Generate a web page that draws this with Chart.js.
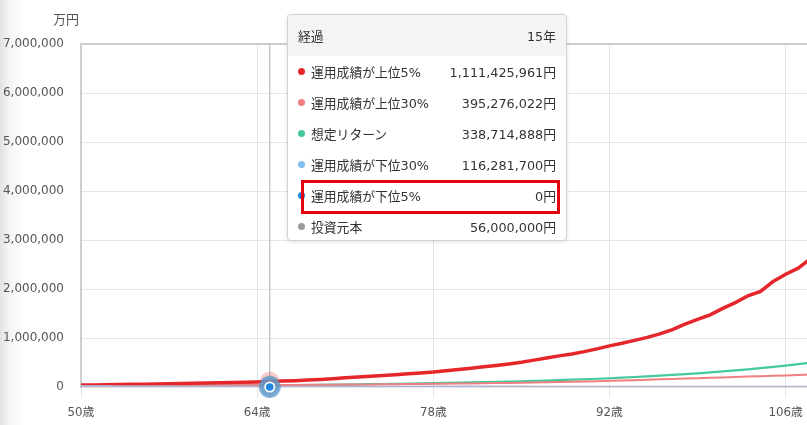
<!DOCTYPE html>
<html lang="ja">
<head>
<meta charset="utf-8">
<script src="https://cdn.jsdelivr.net/npm/chart.js@4/dist/chart.umd.min.js"></script>
<style>
html,body{margin:0;padding:0;}
body{width:807px;height:425px;overflow:hidden;position:relative;
  font-family:"DejaVu Sans","Noto Sans CJK JP",sans-serif;
  background:linear-gradient(to right,#e2e2e2 0,#f4f4f4 9px,#fff 24px);}
#wrap{position:absolute;left:0;top:0;width:836px;height:425px;}
#unit{position:absolute;left:53px;top:9px;font-size:13px;color:#555;font-family:"Noto Sans CJK JP",sans-serif;}
#tip{position:absolute;left:287px;top:14px;width:280px;height:227px;box-sizing:border-box;
  background:#fff;border:1px solid #d2d2d2;border-radius:4px;box-shadow:0 1px 4px rgba(0,0,0,.12);
  font-size:12.8px;color:#333;overflow:hidden;}
#tip .hd{height:41px;background:#f4f4f4;display:flex;justify-content:space-between;align-items:center;padding:0 10px 0 10px;}
#tip .row{height:31px;display:flex;align-items:center;padding:0 10px 0 10px;}
#tip .dot{width:7px;height:7px;border-radius:50%;margin-right:6px;flex:none;}
#tip .val{margin-left:auto;}
#mark{position:absolute;left:301px;top:180px;width:259px;height:34px;box-sizing:border-box;border:3px solid #e3000f;}
</style>
</head>
<body>
<div id="wrap"><canvas id="c"></canvas></div>
<div id="unit">万円</div>
<div id="tip"></div>
<div id="mark"></div>
<script>
/* ---------- data (万円) ---------- */
const ages = [50,51,52,53,54,55,56,57,58,59,60,61,62,63,64,65,66,67,68,69,70,71,72,73,74,75,76,77,78,79,
  80,81,82,83,84,85,86,87,88,89,90,91,92,93,94,95,96,97,98,99,100,101,102,103,104,105,106,107,108,109,110];
const xTicks = [50,64,78,92,106];

const top5 = [40000,43000,46500,50000,54000,58000,62000,66500,71000,76000,81000,86000,92000,98000,104000,
  111000,120000,130000,141000,155000,170000,188000,205000,220000,236000,251000,268000,286000,305000,330000,
  358000,385000,412000,440000,470000,505000,548000,592000,635000,672000,722000,778000,840000,892000,952000,
  1012000,1085000,1172000,1282000,1378000,1472000,1605000,1722000,1862000,1952000,2152000,2302000,2425000,
  2625000,2810000,3010000];
const top30 = [20000,21300,22600,23900,25200,26500,27800,29100,30400,31700,33000,34300,35600,36900,38200,
  39500,41000,42500,44000,45500,47000,49000,51000,53000,55000,57000,59500,62000,64500,67000,
  70000,73000,76000,79500,83000,87000,91000,96000,101000,107000,113000,119000,126000,133000,140000,
  148000,156000,164000,172000,180000,188000,196000,204000,212000,220000,228000,236000,245000,254000,263000,272000];
const expected = [20000,21000,22000,23000,24000,25000,26000,27000,28000,29000,30000,30800,31600,32400,33100,
  33900,36000,38500,41000,44000,47000,50000,53500,57000,61000,65000,69000,73500,78000,83000,
  88000,93500,99000,105000,111000,117000,124000,132000,140000,149000,158000,168000,179000,191000,204000,
  218000,232000,247000,263000,280000,298000,318000,339000,361000,385000,410000,437000,466000,497000,530000,565000];
const low30 = [20000,19400,18800,18200,17600,17000,16500,16000,15400,14900,14300,13800,13300,12700,12200,
  11600,11100,10600,10100,9600,9100,8600,8100,7600,7100,6600,6200,5800,5400,5000,
  4600,4200,3800,3400,3000,2600,2200,1800,1400,1000,600,300,0,0,0,
  0,0,0,0,0,0,0,0,0,0,0,0,0,0,0,0];
const low5 = [20000,18500,17000,15500,14000,12500,11000,9500,8000,6500,5000,3800,2600,1500,500,
  0,0,0,0,0,0,0,0,0,0,0,0,0,0,0,0,0,0,0,0,0,0,0,0,0,0,0,0,0,0,0,0,0,0,0,0,0,0,0,0,0,0,0,0,0,0];
const principal = [20000,19000,18000,17000,16000,15000,14000,13000,12000,11000,10000,9000,8000,7200,6400,
  5600,5600,5600,5600,5600,5600,5600,5600,5600,5600,5600,5600,5600,5600,5600,5600,5600,5600,5600,5600,
  5600,5600,5600,5600,5600,5600,5600,5600,5600,5600,5600,5600,5600,5600,5600,5600,5600,5600,5600,5600,
  5600,5600,5600,5600,5600,5600];

const seriesNames = ["運用成績が上位5%","運用成績が上位30%","想定リターン","運用成績が下位30%","運用成績が下位5%","投資元本"];
const seriesColors = ["#e5262b","#f07f80","#43c99b","#86bdf0","#1e86e0","#9a9a9a"];
const lineColors = ["#e5262b","#f07f80","#43c99b","#86bdf0","#1e86e0","#b3b1cf"];
const tipValues = [1111425961,395276022,338714888,116281700,0,56000000];
const hoverIndex = 15;   // 経過15年
const focusSeries = 4;

/* ---------- tooltip box ---------- */
const tip = document.getElementById("tip");
let html = `<div class="hd"><span>経過</span><span>${ages[hoverIndex]-ages[0]}年</span></div>`;
seriesNames.forEach((n,i)=>{
  html += `<div class="row"><span class="dot" style="background:${seriesColors[i]}"></span><span>${n}</span>
    <span class="val">${tipValues[i].toLocaleString("ja-JP")}円</span></div>`;
});
tip.innerHTML = html;

/* ---------- hover plugin ---------- */
const hoverPlugin = {
  id:"hoverMark",
  beforeDatasetsDraw(chart){
    const {ctx, chartArea, scales:{x}} = chart;
    const px = x.getPixelForValue(ages[hoverIndex]);
    ctx.save();
    ctx.strokeStyle = "#c9c9c9"; ctx.lineWidth = 1.5;
    ctx.beginPath(); ctx.moveTo(px, chartArea.top); ctx.lineTo(px, chartArea.bottom + 10); ctx.stroke();
    ctx.restore();
  },
  afterDatasetsDraw(chart){
    const ctx = chart.ctx;
    ctx.save();
    chart.data.datasets.forEach((ds,i)=>{
      if(i===focusSeries) return;
      const p = chart.getDatasetMeta(i).data[hoverIndex];
      ctx.globalAlpha = 0.22; ctx.fillStyle = ds.borderColor;
      ctx.beginPath(); ctx.arc(p.x, p.y, 10, 0, Math.PI*2); ctx.fill();
    });
    const p = chart.getDatasetMeta(focusSeries).data[hoverIndex];
    ctx.globalAlpha = 0.65; ctx.fillStyle = "#4f8fc8";
    ctx.beginPath(); ctx.arc(p.x, p.y, 11, 0, Math.PI*2); ctx.fill();
    ctx.globalAlpha = 1; ctx.fillStyle = "#fff";
    ctx.beginPath(); ctx.arc(p.x, p.y, 5.5, 0, Math.PI*2); ctx.fill();
    ctx.fillStyle = seriesColors[focusSeries];
    ctx.beginPath(); ctx.arc(p.x, p.y, 3.8, 0, Math.PI*2); ctx.fill();
    ctx.restore();
  }
};

/* ---------- chart ---------- */
const allSeries = [top5, top30, expected, low30, low5, principal];
const widths = [3.5, 2, 2.2, 2, 2, 2];
const orders = [0, 1, 2, 4, 5, -1];   // 投資元本 drawn on top at the bottom
new Chart(document.getElementById("c"), {
  type:"line",
  data:{
    datasets: allSeries.map((s,i)=>({
      label: seriesNames[i],
      data: s.map((v,j)=>({x:ages[j], y:v})),
      borderColor: lineColors[i],
      borderWidth: widths[i],
      order: orders[i],
      pointRadius: 0,
      tension: 0
    }))
  },
  options:{
    responsive:true, maintainAspectRatio:false, animation:false, events:[],
    layout:{padding:{top:44, left:0, right:0, bottom:0}},
    plugins:{legend:{display:false}, tooltip:{enabled:false}},
    scales:{
      x:{
        type:"linear", min:50, max:110,
        afterBuildTicks: s => { s.ticks = xTicks.map(v=>({value:v})); },
        afterFit: s => { s.height = 38; },
        grid:{color:"#e4e4e4", tickColor:"#e4e4e4", tickLength:10},
        border:{display:false},
        ticks:{padding:9, color:"#555", font:{family:"DejaVu Sans, Noto Sans CJK JP", size:11.8}, callback:v=>v+"歳"}
      },
      y:{
        min:0, max:7000000,
        afterFit: s => { s.width = 81; },
        grid:{drawTicks:false,
          color: c => c.tick && c.tick.value===7000000 ? "#cccccc" : "#e6e6e6",
          lineWidth: c => c.tick && c.tick.value===7000000 ? 2 : 1},
        border:{color:"#cfcfcf", width:2},
        ticks:{stepSize:1000000, padding:17, color:"#555", font:{family:"DejaVu Sans", size:12},
          callback:v=>v.toLocaleString("en-US")}
      }
    }
  },
  plugins:[hoverPlugin]
});
</script>
</body>
</html>
